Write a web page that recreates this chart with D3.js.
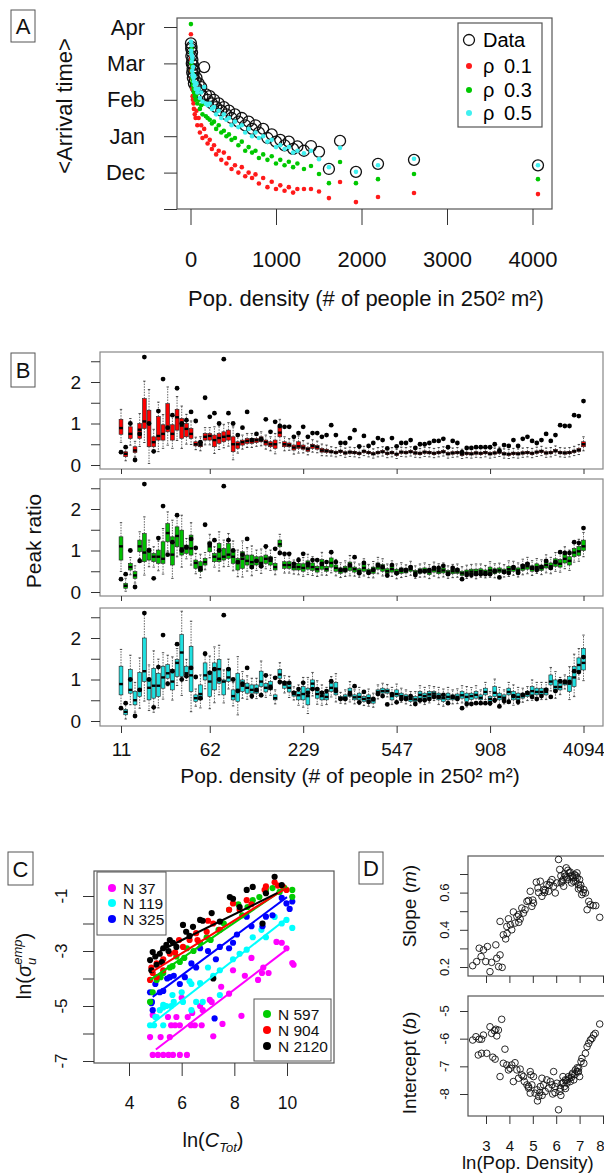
<!DOCTYPE html>
<html>
<head>
<meta charset="utf-8">
<script src="https://cdn.jsdelivr.net/npm/d3@7"></script>
<style>body{margin:0;background:#fff}</style>
</head>
<body>
<script>
const FONT = "'Liberation Sans', Arial, sans-serif";

// ---------- Panel A data ----------
const densA = [5,8,10,12,15,18,20,22,25,28,30,35,40,45,50,60,70,80,95,110,125,140,160,180,200,225,250,275,300,330,
  360,390,420,450,480,520,560,600,640,680,720,760,800,850,900,950,1000,1050,1100,1150,1200,1250,1327,1409,1503,1619,1749,1935,2193,2614,4064];
const arrData = [4.55,4.4,4.2,4.45,4.0,4.3,3.75,4.1,3.85,3.6,3.95,3.7,3.45,3.8,3.55,3.35,3.6,3.3,3.45,3.2,
  3.35,3.1,3.9,3.15,3.0,3.1,2.9,3.0,2.8,2.9,2.7,2.8,2.6,2.7,2.5,2.6,2.4,2.5,2.3,2.4,
  2.2,2.3,2.1,2.2,1.95,2.05,1.85,1.9,1.75,1.85,1.65,1.72,1.6,1.73,1.57,1.1,1.87,1.02,1.24,1.35,1.2];
const arrRho05 = [4.6,4.35,4.25,4.5,4.05,4.2,3.8,4.15,3.7,3.65,3.9,3.6,3.5,3.65,3.4,3.3,3.45,3.2,3.3,3.05,
  3.2,2.95,3.35,2.9,2.85,2.9,2.75,2.8,2.6,2.7,2.5,2.6,2.45,2.5,2.3,2.4,2.25,2.3,2.1,2.2,
  2.0,2.1,1.95,2.0,1.85,1.9,1.7,1.75,1.65,1.7,1.55,1.6,1.53,1.6,1.37,1.15,1.68,1.02,1.2,1.38,1.2];
const arrRho03 = [5.08,4.3,4.0,4.4,3.8,4.1,3.6,3.9,3.5,3.4,3.7,3.3,3.2,3.35,3.1,3.0,3.15,2.9,3.0,2.75,
  2.85,2.6,2.9,2.55,2.5,2.45,2.35,2.4,2.2,2.3,2.1,2.15,2.0,2.05,1.9,1.95,1.75,1.85,1.6,1.7,
  1.55,1.6,1.4,1.5,1.35,1.45,1.25,1.35,1.2,1.3,1.15,1.25,1.1,1.18,0.96,0.71,1.29,0.71,0.82,0.96,0.82];
const arrRho01 = [4.8,4.1,3.8,4.2,3.6,3.9,3.3,3.6,3.1,3.0,3.35,2.9,2.75,3.0,2.6,2.5,2.7,2.3,2.5,2.1,
  2.3,1.95,2.2,2.0,1.8,1.9,1.65,1.75,1.5,1.6,1.35,1.55,1.25,1.4,1.1,1.2,1.0,1.15,0.9,1.0,
  0.85,0.95,0.7,0.85,0.6,0.75,0.55,0.65,0.5,0.6,0.45,0.55,0.55,0.55,0.48,0.3,0.74,0.19,0.33,0.44,0.41];
const monthTicks = [0,1,2,3,4,5];
const monthLabels = ["","Dec","Jan","Feb","Mar","Apr"];
const densTicks = [0,1000,2000,3000,4000];
const legendA = ["Data","0.1","0.3","0.5"];

// ---------- Panel B data ----------
const binTicks = [1,20,40,60,80,100];
const binLabels = ["11","62","229","547","908","4094"];
const peakTicks = [0,0.5,1,1.5,2,2.5];
const peakData = [0.31,0.43,1.0,0.12,0.75,2.6,1.0,0.33,1.3,2.07,
  0.9,1.2,1.85,1.0,1.08,1.28,1.06,0.55,1.62,1.16,
  1.25,1.0,2.55,1.25,1.0,0.72,0.9,1.28,0.6,0.75,
  0.62,1.1,0.8,1.04,0.94,0.92,0.92,0.68,0.77,0.92,
  0.68,0.77,0.77,0.68,0.72,0.96,0.72,0.53,0.53,0.65,
  0.84,0.45,0.70,0.46,0.53,0.65,0.6,0.4,0.65,0.45,
  0.53,0.53,0.6,0.41,0.5,0.5,0.53,0.58,0.58,0.63,
  0.43,0.58,0.53,0.31,0.41,0.41,0.43,0.43,0.43,0.43,
  0.5,0.35,0.48,0.46,0.6,0.46,0.63,0.68,0.58,0.53,
  0.6,0.75,0.58,0.72,0.96,0.94,0.94,1.2,1.18,1.54];
// [q1, median, q3] per bin
const boxesRho01 = [
  [0.74,0.89,1.10],[0.20,0.27,0.32],[0.64,0.75,0.92],[0.30,0.35,0.44],[0.64,0.85,1.00],
  [0.88,1.05,1.60],[0.44,1.00,1.32],[0.44,0.55,0.68],[0.60,0.70,1.17],[0.60,0.75,0.97],
  [0.80,0.90,1.48],[0.60,0.75,0.97],[0.84,1.15,1.34],[0.64,0.95,1.12],[0.68,0.87,1.00],
  [0.64,0.75,0.88],[0.46,0.50,0.56],[0.44,0.48,0.56],[0.60,0.68,0.76],[0.60,0.70,0.76],
  [0.44,0.60,0.72],[0.52,0.65,0.76],[0.56,0.68,0.80],[0.60,0.70,0.84],[0.32,0.50,0.68],
  [0.40,0.50,0.56],[0.48,0.55,0.60],[0.52,0.58,0.64],[0.52,0.58,0.64],[0.54,0.60,0.64],
  [0.56,0.62,0.68],[0.48,0.55,0.60],[0.44,0.50,0.56],[0.40,0.50,0.60],[0.68,0.78,0.92],
  [0.44,0.50,0.56],[0.44,0.48,0.53],[0.36,0.42,0.48],[0.40,0.45,0.56],[0.38,0.42,0.48],
  [0.33,0.38,0.42],[0.40,0.46,0.50],[0.38,0.43,0.47],[0.31,0.35,0.40],[0.30,0.34,0.38],
  [0.29,0.32,0.35],[0.27,0.30,0.33],[0.30,0.33,0.36],[0.26,0.29,0.32],[0.28,0.31,0.34],
  [0.27,0.30,0.33],[0.25,0.28,0.31],[0.30,0.33,0.36],[0.27,0.30,0.33],[0.24,0.27,0.30],
  [0.27,0.30,0.33],[0.29,0.32,0.35],[0.25,0.28,0.31],[0.27,0.30,0.33],[0.23,0.26,0.29],
  [0.28,0.31,0.34],[0.27,0.30,0.33],[0.29,0.32,0.35],[0.26,0.29,0.32],[0.25,0.28,0.31],
  [0.28,0.31,0.34],[0.27,0.30,0.33],[0.25,0.28,0.31],[0.27,0.30,0.33],[0.29,0.32,0.35],
  [0.24,0.27,0.30],[0.26,0.29,0.32],[0.27,0.30,0.33],[0.23,0.26,0.29],[0.25,0.28,0.31],
  [0.24,0.27,0.30],[0.26,0.29,0.32],[0.25,0.28,0.31],[0.27,0.30,0.33],[0.24,0.27,0.30],
  [0.26,0.29,0.32],[0.28,0.31,0.34],[0.24,0.27,0.30],[0.23,0.26,0.29],[0.25,0.28,0.31],
  [0.24,0.27,0.30],[0.26,0.29,0.32],[0.27,0.30,0.33],[0.25,0.28,0.31],[0.28,0.31,0.34],
  [0.30,0.33,0.36],[0.26,0.29,0.32],[0.27,0.30,0.33],[0.31,0.34,0.37],[0.27,0.30,0.33],
  [0.26,0.29,0.32],[0.27,0.30,0.33],[0.30,0.33,0.36],[0.33,0.36,0.40],[0.44,0.50,0.56]];
const boxesRho03 = [
  [0.77,1.10,1.33],[0.09,0.15,0.21],[0.53,0.60,0.69],[0.33,0.40,0.49],[0.97,1.10,1.25],
  [0.73,0.95,1.41],[0.77,1.00,1.05],[0.73,0.85,0.93],[0.69,0.85,1.01],[0.69,0.80,1.21],
  [1.21,1.42,1.65],[0.65,0.90,1.33],[1.09,1.35,1.57],[0.89,1.05,1.49],[0.93,1.05,1.13],
  [0.89,1.05,1.37],[0.57,0.70,0.77],[0.49,0.60,0.73],[0.65,0.72,0.81],[0.97,1.10,1.21],
  [0.73,0.85,0.93],[0.73,0.80,1.17],[0.77,0.85,1.05],[0.81,0.90,1.17],[0.69,0.85,1.01],
  [0.53,0.70,0.81],[0.57,0.80,0.97],[0.65,0.75,0.89],[0.57,0.72,0.89],[0.65,0.75,0.85],
  [0.60,0.70,0.85],[0.69,0.80,0.89],[0.65,0.75,0.85],[0.53,0.60,0.69],[1.09,1.15,1.25],
  [0.57,0.65,0.73],[0.57,0.65,0.73],[0.53,0.60,0.65],[0.53,0.60,0.69],[0.50,0.58,0.68],
  [0.55,0.62,0.75],[0.52,0.60,0.70],[0.48,0.55,0.62],[0.55,0.65,0.78],[0.50,0.55,0.62],
  [0.60,0.70,0.82],[0.50,0.58,0.65],[0.45,0.52,0.58],[0.48,0.55,0.62],[0.52,0.62,0.72],
  [0.48,0.55,0.60],[0.45,0.50,0.56],[0.50,0.58,0.66],[0.44,0.50,0.55],[0.45,0.52,0.60],
  [0.55,0.62,0.70],[0.50,0.58,0.66],[0.45,0.50,0.56],[0.48,0.55,0.62],[0.42,0.48,0.55],
  [0.45,0.52,0.58],[0.46,0.50,0.55],[0.50,0.55,0.62],[0.42,0.47,0.52],[0.45,0.50,0.56],
  [0.46,0.52,0.58],[0.42,0.48,0.54],[0.48,0.54,0.60],[0.44,0.50,0.56],[0.46,0.52,0.58],
  [0.42,0.47,0.52],[0.44,0.50,0.55],[0.45,0.50,0.56],[0.40,0.45,0.50],[0.42,0.47,0.53],
  [0.44,0.49,0.55],[0.42,0.48,0.55],[0.45,0.50,0.56],[0.43,0.48,0.53],[0.46,0.52,0.60],
  [0.44,0.50,0.56],[0.47,0.52,0.58],[0.45,0.50,0.55],[0.48,0.55,0.62],[0.50,0.56,0.62],
  [0.46,0.52,0.58],[0.52,0.58,0.66],[0.55,0.62,0.70],[0.50,0.56,0.63],[0.55,0.60,0.68],
  [0.52,0.58,0.65],[0.58,0.65,0.75],[0.55,0.62,0.70],[0.62,0.70,0.80],[0.60,0.68,0.78],
  [0.70,0.80,0.92],[0.65,0.75,0.85],[0.85,0.95,1.05],[0.88,0.98,1.10],[1.00,1.10,1.25]];
const boxesRho05 = [
  [0.63,0.89,1.32],[0.15,0.22,0.28],[0.67,0.75,1.24],[0.39,0.50,0.71],[0.59,0.75,1.17],
  [0.95,1.20,2.00],[0.51,0.80,1.03],[0.55,0.85,1.27],[0.59,0.85,1.15],[0.79,1.05,1.32],
  [1.03,1.15,1.36],[0.75,0.95,1.24],[1.07,1.40,1.48],[1.07,1.65,2.08],[1.11,1.15,1.32],
  [0.71,1.10,1.80],[0.47,0.55,0.63],[0.51,0.65,0.87],[0.99,1.10,1.40],[0.59,0.95,1.20],
  [0.75,1.25,1.40],[0.91,1.25,1.48],[0.63,0.95,0.99],[0.95,1.05,1.27],[0.51,0.60,0.75],
  [0.47,0.75,1.15],[0.71,0.85,0.99],[0.67,0.80,0.91],[0.67,0.75,0.87],[0.67,0.72,0.87],
  [0.83,0.95,1.20],[0.70,0.80,0.90],[0.75,0.85,0.95],[0.51,0.55,0.63],[1.03,1.12,1.24],
  [0.79,0.88,0.95],[0.70,0.80,0.91],[0.60,0.65,0.71],[0.51,0.62,0.71],[0.51,0.65,0.83],
  [0.39,0.60,0.79],[0.75,0.90,0.99],[0.55,0.65,0.79],[0.51,0.60,0.71],[0.51,0.58,0.67],
  [0.71,0.80,0.91],[0.63,0.78,0.93],[0.51,0.55,0.59],[0.51,0.56,0.63],[0.59,0.70,0.79],
  [0.51,0.57,0.63],[0.51,0.58,0.67],[0.47,0.53,0.59],[0.47,0.55,0.63],[0.43,0.50,0.55],
  [0.63,0.70,0.75],[0.67,0.72,0.79],[0.67,0.72,0.77],[0.51,0.60,0.67],[0.59,0.65,0.75],
  [0.55,0.60,0.67],[0.51,0.57,0.63],[0.47,0.53,0.59],[0.47,0.52,0.59],[0.55,0.63,0.71],
  [0.51,0.60,0.67],[0.55,0.64,0.71],[0.59,0.66,0.71],[0.51,0.58,0.67],[0.47,0.55,0.63],
  [0.51,0.58,0.67],[0.51,0.56,0.63],[0.52,0.58,0.65],[0.55,0.62,0.71],[0.47,0.58,0.67],
  [0.52,0.60,0.67],[0.55,0.63,0.71],[0.51,0.56,0.63],[0.63,0.70,0.79],[0.47,0.53,0.59],
  [0.59,0.68,0.83],[0.51,0.58,0.67],[0.51,0.56,0.63],[0.63,0.70,0.79],[0.51,0.60,0.71],
  [0.51,0.58,0.67],[0.55,0.60,0.67],[0.59,0.65,0.71],[0.63,0.72,0.83],[0.63,0.70,0.79],
  [0.63,0.70,0.79],[0.63,0.70,0.79],[0.87,0.95,1.11],[0.71,0.82,0.99],[0.75,0.82,0.91],
  [0.87,0.92,0.99],[0.71,0.90,1.07],[0.83,1.05,1.31],[1.19,1.35,1.52],[1.23,1.40,1.75]];

// ---------- Panel C data ----------
const cTicksY = [-1,-2,-3,-4,-5,-6,-7];
const cLabelsY = [-1,-3,-5,-7];
const cTicksX = [4,6,8,10];
const groupsC = ["N 37","N 119","N 325","N 597","N 904","N 2120"];
const cN37 = [[4.9,-6.78],[5.3,-6.78],[5.67,-6.78],[5.93,-6.78],[6.2,-6.78],[5.1,-6.78],[5.5,-6.78],
  [4.8,-6.13],[5.2,-6.13],[5.55,-6.13],[4.9,-5.33],[5.48,-5.4],[5.8,-5.4],[5.6,-5.7],[5.75,-5.7],[5.93,-5.7],
  [6.23,-5.4],[6.35,-5.7],[6.5,-5.7],[6.76,-5.7],[6.8,-5.15],[7.14,-4.85],[7.2,-6.1],[7.55,-5.65],[8.27,-5.36],
  [6.0,-4.7],[6.7,-5.0],[7.07,-4.78],[7.5,-4.3],[7.95,-3.7],[8.4,-3.9],[8.65,-3.25],[9.1,-3.6],[9.05,-3.8],
  [9.3,-3.8],[9.6,-2.67],[9.8,-2.7],[9.98,-2.9],[10.2,-3.44],[10.25,-3.5],[8.9,-4.05],[7.8,-4.55],[6.4,-5.25]];
const cN119 = [[4.8,-5.7],[4.95,-5.7],[5.05,-5.4],[5.17,-5.15],[5.3,-5.05],[5.42,-5.0],[5.6,-5.0],[5.7,-4.85],
  [6.05,-4.85],[6.37,-5.15],[6.55,-4.85],[6.8,-4.85],[5.3,-5.7],[5.0,-5.4],[5.3,-4.96],[5.65,-4.6],[6.37,-4.2],
  [6.3,-4.1],[6.7,-4.17],[7.0,-3.6],[7.45,-3.7],[7.45,-4.6],[7.95,-3.3],[8.47,-2.95],[8.7,-2.5],[9.03,-2.23],
  [9.2,-2.5],[9.53,-1.76],[9.8,-2.0],[9.98,-1.87],[10.2,-2.16],[7.2,-3.9],[8.2,-3.1],[6.0,-4.5]];
const cN325 = [[4.8,-4.5],[4.87,-4.85],[5.0,-4.2],[5.17,-4.5],[5.3,-4.45],[5.55,-3.95],[5.7,-3.9],[5.93,-4.2],
  [6.12,-3.95],[6.37,-3.45],[6.7,-2.9],[7.0,-3.0],[7.45,-2.85],[7.8,-2.9],[7.95,-2.7],[8.47,-1.75],[8.65,-2.1],
  [9.07,-2.1],[9.2,-1.75],[9.45,-1.7],[9.8,-1.07],[9.98,-1.27],[10.1,-1.47],[10.2,-1.2],[4.85,-4.9],[5.45,-4.0],
  [4.9,-5.15],[7.25,-5.45],[6.55,-3.6],[8.1,-2.4],[7.3,-3.3]];
const cN597 = [[4.8,-4.85],[4.9,-4.5],[5.05,-4.05],[5.3,-3.8],[5.55,-3.6],[5.65,-3.55],[5.93,-3.4],[6.2,-2.9],
  [6.45,-3.0],[6.7,-2.7],[6.95,-2.5],[7.4,-2.23],[7.8,-1.5],[8.15,-1.3],[8.5,-1.4],[8.7,-1.15],[8.95,-1.04],
  [9.2,-0.78],[9.45,-0.71],[9.72,-0.85],[9.9,-0.7],[10.2,-0.78],[10.2,-1.03],[5.2,-3.95],[5.8,-3.2],[6.1,-3.25],
  [7.1,-2.6],[7.6,-2.0],[8.3,-1.7]];
const cN904 = [[4.8,-4.05],[4.9,-3.8],[5.05,-3.45],[5.3,-3.3],[5.55,-3.1],[5.75,-3.05],[6.05,-2.85],[6.3,-2.6],
  [6.55,-2.35],[6.95,-2.3],[7.2,-2.0],[7.45,-2.23],[7.8,-1.5],[7.95,-1.27],[8.2,-1.5],[8.47,-1.15],[8.65,-1.3],
  [9.15,-0.78],[9.2,-0.65],[9.53,-0.5],[9.65,-0.62],[9.85,-0.67],[9.98,-0.78],[5.05,-3.95],[5.3,-3.7],
  [4.85,-3.6],[5.9,-2.6],[6.6,-2.6],[7.0,-1.9]];
const cN2120 = [[4.8,-3.33],[4.9,-3.04],[5.05,-3.5],[5.17,-3.1],[5.3,-2.9],[5.42,-2.78],[5.55,-2.6],[5.67,-2.7],
  [5.8,-2.85],[6.05,-2.05],[6.17,-2.3],[6.43,-2.12],[6.7,-1.87],[6.8,-1.9],[7.14,-1.62],[7.45,-1.93],[7.83,-1.04],
  [7.95,-1.1],[8.2,-1.4],[8.47,-0.78],[8.7,-0.67],[9.07,-2.0],[9.2,-0.9],[9.53,-0.3],[9.8,-0.6],[7.2,-4.0],
  [4.85,-3.7],[5.0,-3.2],[5.25,-3.4],[5.5,-3.0],[6.3,-2.45]];
// fitted lines [x0, y0, x1, y1]
const fitsC = [[5.02,-6.58,9.97,-2.96],[4.91,-5.62,10.03,-1.79],[4.9,-4.67,10.0,-1.04],
  [4.8,-4.05,10.0,-0.67],[4.87,-3.76,9.98,-0.71],[5.17,-3.0,9.64,-0.89]];

// ---------- Panel D data ----------
const dTicksX = [3,4,5,6,7,8];
const slopeTicks = [0.2,0.3,0.4,0.5,0.6,0.7];
const slopeLabels = [0.2,0.4,0.6];
const interTicks = [-5,-6,-7,-8];
const slopePts = [[2.43,0.207],[2.6,0.229],[2.71,0.301],[2.79,0.256],[2.89,0.292],[2.99,0.229],[3.06,0.31],
  [3.17,0.175],[3.24,0.225],[3.42,0.319],[3.46,0.247],[3.54,0.202],[3.6,0.265],[3.69,0.198],[3.6,0.445],
  [3.74,0.373],[3.84,0.351],[3.89,0.418],[3.96,0.459],[4.04,0.427],[4.1,0.4],[4.17,0.496],[4.24,0.436],
  [4.32,0.472],[4.39,0.481],[4.46,0.458],[4.53,0.517],[4.6,0.49],[4.67,0.508],[4.75,0.553],[4.82,0.558],
  [4.89,0.607],[4.96,0.526],[5.03,0.544],[5.15,0.656],[5.22,0.625],[5.32,0.661],[5.39,0.58],[5.46,0.616],
  [5.53,0.613],[5.6,0.643],[5.67,0.607],[5.75,0.656],[5.82,0.67],[5.89,0.634],[5.96,0.598],[6.03,0.652],
  [6.1,0.778],[6.15,0.724],[6.21,0.652],[6.25,0.661],[6.32,0.634],[6.39,0.688],[6.43,0.733],[6.49,0.67],
  [6.55,0.706],[6.6,0.688],[6.66,0.652],[6.72,0.679],[6.78,0.697],[6.83,0.661],[6.89,0.706],[6.95,0.643],
  [7.0,0.67],[7.03,0.625],[7.09,0.589],[7.18,0.616],[7.25,0.598],[7.32,0.508],[7.39,0.553],[7.46,0.535],
  [7.58,0.53],[7.69,0.53],[7.86,0.467],[6.2,0.69],[6.35,0.7],[6.45,0.68],[6.5,0.72],[6.6,0.71],[6.7,0.69],
  [6.75,0.66],[6.85,0.69],[6.9,0.68],[6.3,0.67],[5.7,0.64],[5.5,0.6],[5.25,0.6],[5.0,0.56],[4.4,0.44],
  [3.9,0.38],[6.95,0.62],[7.05,0.64],[7.15,0.6]];
const interPts = [[2.43,-6.05],[2.57,-5.93],[2.71,-6.02],[2.81,-6.02],[2.89,-5.87],[2.67,-6.59],[2.81,-6.53],
  [3.03,-6.53],[3.17,-5.57],[3.24,-5.81],[3.36,-5.71],[3.42,-5.66],[3.46,-5.9],[3.53,-5.69],[3.67,-5.3],
  [3.29,-6.67],[3.39,-6.74],[3.6,-7.37],[3.81,-6.38],[3.74,-6.89],[3.89,-6.95],[3.96,-7.13],[4.03,-7.07],
  [4.1,-6.95],[4.17,-7.55],[4.24,-6.87],[4.32,-7.13],[4.39,-7.43],[4.46,-7.1],[4.53,-7.31],[4.6,-7.37],
  [4.64,-7.55],[4.75,-7.67],[4.82,-7.79],[4.89,-7.19],[4.92,-7.31],[4.96,-7.67],[5.03,-7.37],[5.1,-7.97],
  [4.82,-7.73],[4.89,-7.97],[5.18,-7.85],[5.25,-8.09],[5.32,-7.73],[5.39,-7.43],[5.46,-7.67],[5.53,-7.91],
  [5.6,-7.49],[5.67,-7.79],[5.75,-7.55],[5.82,-7.67],[5.89,-7.19],[5.96,-7.73],[6.03,-7.61],[6.1,-8.57],
  [6.15,-7.91],[6.18,-7.79],[6.25,-7.61],[6.29,-7.37],[6.35,-7.73],[6.39,-7.49],[6.46,-7.61],[6.53,-7.37],
  [6.6,-7.55],[6.67,-7.31],[6.75,-7.49],[6.82,-7.13],[6.89,-7.19],[6.96,-7.07],[7.0,-7.37],[7.06,-6.83],
  [7.1,-6.71],[7.18,-6.89],[7.25,-6.53],[7.32,-6.29],[7.39,-6.17],[7.46,-6.05],[7.53,-5.99],[7.6,-5.87],
  [7.67,-5.81],[7.86,-5.47],[6.3,-7.6],[6.45,-7.5],[6.55,-7.45],[6.65,-7.4],[6.7,-7.25],[6.8,-7.3],
  [6.9,-7.05],[6.95,-7.2],[6.4,-7.8],[6.2,-8.05],[5.95,-7.95],[5.85,-8.0],[5.4,-8.05],[5.2,-8.25],[5.3,-7.95]];

// ---------- drawing ----------
const svg = d3.select("body").append("svg")
  .attr("width", 604).attr("height", 1173)
  .style("font-family", FONT);
svg.append("rect").attr("width", 604).attr("height", 1173).attr("fill", "#fff");

function panelLabel(x, y, w, h, txt) {
  svg.append("rect").attr("x", x).attr("y", y).attr("width", w).attr("height", h)
    .attr("fill", "none").attr("stroke", "#555").attr("stroke-width", 1);
  svg.append("text").attr("x", x + w / 2).attr("y", y + h / 2 + 8)
    .attr("text-anchor", "middle").attr("font-size", 22).attr("fill", "#111").text(txt);
}

function frame(x, y, w, h, col) {
  svg.append("rect").attr("x", x).attr("y", y).attr("width", w).attr("height", h)
    .attr("fill", "none").attr("stroke", col || "#555").attr("stroke-width", 1.2);
}

function styleAxis(g, fs) {
  g.select(".domain").remove();
  g.selectAll(".tick line").attr("stroke", "#333").attr("stroke-width", 1);
  g.selectAll(".tick text").attr("font-family", FONT).attr("font-size", fs).attr("fill", "#111");
}

// ===== Panel A =====
panelLabel(11, 10, 24, 32, "A");
const xA = d3.scaleLinear().domain([0, 4000]).range([190.5, 532.5]);
const yA = d3.scaleLinear().domain([0, 5]).range([209, 27]);
frame(177, 18, 375, 191);

svg.append("g").attr("transform", "translate(177,0)")
  .call(d3.axisLeft(yA).tickValues(monthTicks).tickSize(13).tickPadding(19)
    .tickFormat((d, i) => monthLabels[i]))
  .call(g => styleAxis(g, 22));
svg.append("g").attr("transform", "translate(0,209)")
  .call(d3.axisBottom(xA).tickValues(densTicks).tickSize(16).tickPadding(26).tickFormat(d3.format("d")))
  .call(g => styleAxis(g, 22));

svg.append("text").attr("x", 366).attr("y", 306).attr("text-anchor", "middle")
  .attr("font-size", 22).attr("fill", "#111").text("Pop. density (# of people in 250² m²)");
svg.append("text").attr("transform", "translate(72,106) rotate(-90)").attr("text-anchor", "middle")
  .attr("font-size", 22).attr("fill", "#111").text("<Arrival time>");

const gA = svg.append("g");
gA.selectAll("circle.data").data(densA).enter().append("circle")
  .attr("cx", d => xA(d)).attr("cy", (d, i) => yA(arrData[i])).attr("r", 5.5)
  .attr("fill", "none").attr("stroke", "#111").attr("stroke-width", 1.3);
const seriesA = [
  {vals: arrRho01, color: "#ff1a1a"},
  {vals: arrRho03, color: "#00c800"},
  {vals: arrRho05, color: "#3ff0f0"}
];
seriesA.forEach(s => {
  gA.append("g").selectAll("circle").data(densA).enter().append("circle")
    .attr("cx", d => xA(d)).attr("cy", (d, i) => yA(s.vals[i])).attr("r", 2.3)
    .attr("fill", s.color);
});

// legend A
frame(458, 23, 84, 104, "#555");
const legAy = [40, 66, 90, 113];
legendA.forEach((t, i) => {
  if (i === 0) {
    svg.append("circle").attr("cx", 469).attr("cy", legAy[i]).attr("r", 5.5)
      .attr("fill", "none").attr("stroke", "#111").attr("stroke-width", 1.3);
    svg.append("text").attr("x", 483).attr("y", legAy[i] + 7).attr("font-size", 20).text(t);
  } else {
    svg.append("circle").attr("cx", 469).attr("cy", legAy[i]).attr("r", 3)
      .attr("fill", seriesA[i - 1].color);
    svg.append("text").attr("x", 483).attr("y", legAy[i] + 7).attr("font-size", 20).text("ρ");
    svg.append("text").attr("x", 504).attr("y", legAy[i] + 7).attr("font-size", 20).text(t);
  }
});

// ===== Panel B =====
panelLabel(11, 353, 24, 34, "B");
const xB = d3.scaleLinear().domain([1, 100]).range([121, 583.5]);
const panelsB = [
  {top: 352, bottom: 469, zero: 465, boxes: boxesRho01, color: "#ff0000", last: false},
  {top: 479, bottom: 596, zero: 592, boxes: boxesRho03, color: "#00c000", last: false},
  {top: 608, bottom: 726, zero: 721, boxes: boxesRho05, color: "#20e0e0", last: true}
];
const boxW = 3.8;
panelsB.forEach(p => {
  const yB = d3.scaleLinear().domain([0, 2]).range([p.zero, p.zero - 83]);
  frame(100, p.top, 503, p.bottom - p.top, "#888");
  svg.append("g").attr("transform", "translate(100,0)")
    .call(d3.axisLeft(yB).tickValues(peakTicks).tickSize(9).tickPadding(10)
      .tickFormat(d => Number.isInteger(d) ? d : ""))
    .call(g => styleAxis(g, 19));
  svg.append("g").attr("transform", `translate(0,${p.bottom})`)
    .call(d3.axisBottom(xB).tickValues(binTicks).tickSize(p.last ? 7 : 5).tickPadding(10)
      .tickFormat((d, i) => p.last ? binLabels[i] : ""))
    .call(g => styleAxis(g, 19));

  const g = svg.append("g");
  p.boxes.forEach((b, i) => {
    const x = xB(i + 1);
    const iqr = b[2] - b[0];
    const hi = b[2] + 0.5 * iqr + 0.06;
    const lo = Math.max(0.02, b[0] - 0.4 * iqr - 0.05);
    g.append("line").attr("x1", x).attr("x2", x).attr("y1", yB(b[2])).attr("y2", yB(hi))
      .attr("stroke", "#222").attr("stroke-width", 0.7).attr("stroke-dasharray", "1.5,1.2");
    g.append("line").attr("x1", x).attr("x2", x).attr("y1", yB(b[0])).attr("y2", yB(lo))
      .attr("stroke", "#222").attr("stroke-width", 0.7).attr("stroke-dasharray", "1.5,1.2");
    g.append("line").attr("x1", x - 1.2).attr("x2", x + 1.2).attr("y1", yB(hi)).attr("y2", yB(hi))
      .attr("stroke", "#222").attr("stroke-width", 0.8);
    g.append("line").attr("x1", x - 1.2).attr("x2", x + 1.2).attr("y1", yB(lo)).attr("y2", yB(lo))
      .attr("stroke", "#222").attr("stroke-width", 0.8);
    g.append("rect").attr("x", x - boxW / 2).attr("width", boxW)
      .attr("y", yB(b[2])).attr("height", Math.max(0.5, yB(b[0]) - yB(b[2])))
      .attr("fill", p.color).attr("stroke", "#222").attr("stroke-width", 0.6);
    g.append("line").attr("x1", x - boxW / 2).attr("x2", x + boxW / 2)
      .attr("y1", yB(b[1])).attr("y2", yB(b[1])).attr("stroke", "#000").attr("stroke-width", 2.4);
  });
  g.selectAll("circle.pd").data(peakData).enter().append("circle")
    .attr("cx", (d, i) => xB(i + 1)).attr("cy", d => yB(d)).attr("r", 2.4).attr("fill", "#000");
});
svg.append("text").attr("transform", "translate(41,541) rotate(-90)").attr("text-anchor", "middle")
  .attr("font-size", 21).attr("fill", "#111").text("Peak ratio");
svg.append("text").attr("x", 350).attr("y", 783).attr("text-anchor", "middle")
  .attr("font-size", 21).attr("fill", "#111").text("Pop. density (# of people in 250² m²)");

// ===== Panel C =====
panelLabel(8, 852, 25, 33, "C");
const xC = d3.scaleLinear().domain([4, 10]).range([129, 287]);
const yC = d3.scaleLinear().domain([-1, -7]).range([896, 1061]);
frame(94, 871, 240, 192, "#555");
svg.append("g").attr("transform", "translate(94,0)")
  .call(d3.axisLeft(yC).tickValues(cTicksY).tickSize(11).tickFormat(""))
  .call(g => styleAxis(g, 17));
svg.append("g").selectAll("text").data(cLabelsY).enter().append("text")
  .attr("transform", d => `translate(67,${yC(d)}) rotate(-90)`).attr("text-anchor", "middle")
  .attr("font-size", 17).attr("fill", "#111").text(d => d);
svg.append("g").attr("transform", "translate(0,1063)")
  .call(d3.axisBottom(xC).tickValues(cTicksX).tickSize(13).tickPadding(21).tickFormat(d3.format("d")))
  .call(g => styleAxis(g, 17.5));

const colorsC = ["#ff00ff", "#00ffff", "#0000ff", "#00cc00", "#ff0000", "#000000"];
const ptsC = [cN37, cN119, cN325, cN597, cN904, cN2120];
ptsC.forEach((pts, k) => {
  svg.append("g").selectAll("circle").data(pts).enter().append("circle")
    .attr("cx", d => xC(d[0])).attr("cy", d => yC(d[1])).attr("r", 3.1).attr("fill", colorsC[k]);
});
fitsC.forEach((f, k) => {
  svg.append("line").attr("x1", xC(f[0])).attr("y1", yC(f[1])).attr("x2", xC(f[2])).attr("y2", yC(f[3]))
    .attr("stroke", colorsC[k]).attr("stroke-width", 2);
});

// legends C
svg.append("rect").attr("x", 97).attr("y", 872).attr("width", 69).attr("height", 63)
  .attr("fill", "#fff").attr("stroke", "#555");
svg.append("rect").attr("x", 254).attr("y", 999).attr("width", 77).attr("height", 62)
  .attr("fill", "#fff").attr("stroke", "#555");
const legC = [[112, 888], [112, 903], [112, 919], [267, 1014], [267, 1030], [267, 1046]];
groupsC.forEach((t, k) => {
  svg.append("circle").attr("cx", legC[k][0]).attr("cy", legC[k][1]).attr("r", 4).attr("fill", colorsC[k]);
  svg.append("text").attr("x", legC[k][0] + 11).attr("y", legC[k][1] + 5.5)
    .attr("font-size", 15.5).attr("fill", "#111").text(t);
});

const tCy = svg.append("text").attr("transform", "translate(31,966) rotate(-90)")
  .attr("text-anchor", "middle").attr("font-size", 20).attr("fill", "#111");
tCy.append("tspan").text("ln(");
tCy.append("tspan").attr("font-style", "italic").text("σ");
tCy.append("tspan").attr("font-style", "italic").attr("font-size", 13).attr("dy", 5).text("u");
tCy.append("tspan").attr("font-style", "italic").attr("font-size", 13).attr("dx", -7).attr("dy", -14).text("emp");
tCy.append("tspan").attr("dy", 9).text(")");

const tCx = svg.append("text").attr("x", 213).attr("y", 1147).attr("text-anchor", "middle")
  .attr("font-size", 20).attr("fill", "#111");
tCx.append("tspan").text("ln(");
tCx.append("tspan").attr("font-style", "italic").text("C");
tCx.append("tspan").attr("font-style", "italic").attr("font-size", 13).attr("dy", 5).text("Tot");
tCx.append("tspan").attr("dy", -5).text(")");

// ===== Panel D =====
panelLabel(359, 852, 24, 32, "D");
const xD = d3.scaleLinear().domain([3, 8]).range([486, 603]);
const ySl = d3.scaleLinear().domain([0.2, 0.7]).range([967, 874]);
const yIn = d3.scaleLinear().domain([-5, -8]).range([1011, 1094]);
frame(468, 856, 170, 120, "#555");
frame(468, 996, 170, 120, "#555");

svg.append("g").attr("transform", "translate(468,0)")
  .call(d3.axisLeft(ySl).tickValues(slopeTicks).tickSize(8).tickFormat(""))
  .call(g => styleAxis(g, 13));
svg.append("g").selectAll("text").data(slopeLabels).enter().append("text")
  .attr("transform", d => `translate(449,${ySl(d)}) rotate(-90)`).attr("text-anchor", "middle")
  .attr("font-size", 13).attr("fill", "#111").text(d => d.toFixed(1));
svg.append("g").attr("transform", "translate(468,0)")
  .call(d3.axisLeft(yIn).tickValues(interTicks).tickSize(8).tickFormat(""))
  .call(g => styleAxis(g, 13));
svg.append("g").selectAll("text").data(interTicks).enter().append("text")
  .attr("transform", d => `translate(449,${yIn(d)}) rotate(-90)`).attr("text-anchor", "middle")
  .attr("font-size", 13).attr("fill", "#111").text(d => d);

svg.append("g").attr("transform", "translate(0,976)")
  .call(d3.axisBottom(xD).tickValues(dTicksX).tickSize(7).tickFormat(""))
  .call(g => styleAxis(g, 15));
svg.append("g").attr("transform", "translate(0,1116)")
  .call(d3.axisBottom(xD).tickValues(dTicksX).tickSize(8).tickPadding(16).tickFormat(d3.format("d")))
  .call(g => styleAxis(g, 15))
  .call(g => g.selectAll(".tick text").filter(d => d === 8).attr("text-anchor", "end").attr("x", 1));

svg.append("g").selectAll("circle").data(slopePts).enter().append("circle")
  .attr("cx", d => xD(d[0])).attr("cy", d => ySl(d[1])).attr("r", 3.3)
  .attr("fill", "none").attr("stroke", "#111").attr("stroke-width", 0.9);
svg.append("g").selectAll("circle").data(interPts).enter().append("circle")
  .attr("cx", d => xD(d[0])).attr("cy", d => yIn(d[1])).attr("r", 3.3)
  .attr("fill", "none").attr("stroke", "#111").attr("stroke-width", 0.9);

const tSl = svg.append("text").attr("transform", "translate(416,906) rotate(-90)")
  .attr("text-anchor", "middle").attr("font-size", 19).attr("fill", "#111");
tSl.append("tspan").text("Slope (");
tSl.append("tspan").attr("font-style", "italic").text("m");
tSl.append("tspan").text(")");
const tIn = svg.append("text").attr("transform", "translate(416,1063) rotate(-90)")
  .attr("text-anchor", "middle").attr("font-size", 19).attr("fill", "#111");
tIn.append("tspan").text("Intercept (");
tIn.append("tspan").attr("font-style", "italic").text("b");
tIn.append("tspan").text(")");
svg.append("text").attr("x", 462).attr("y", 1169).attr("font-size", 18.5).attr("fill", "#111")
  .text("ln(Pop. Density)");
</script>
</body>
</html>
